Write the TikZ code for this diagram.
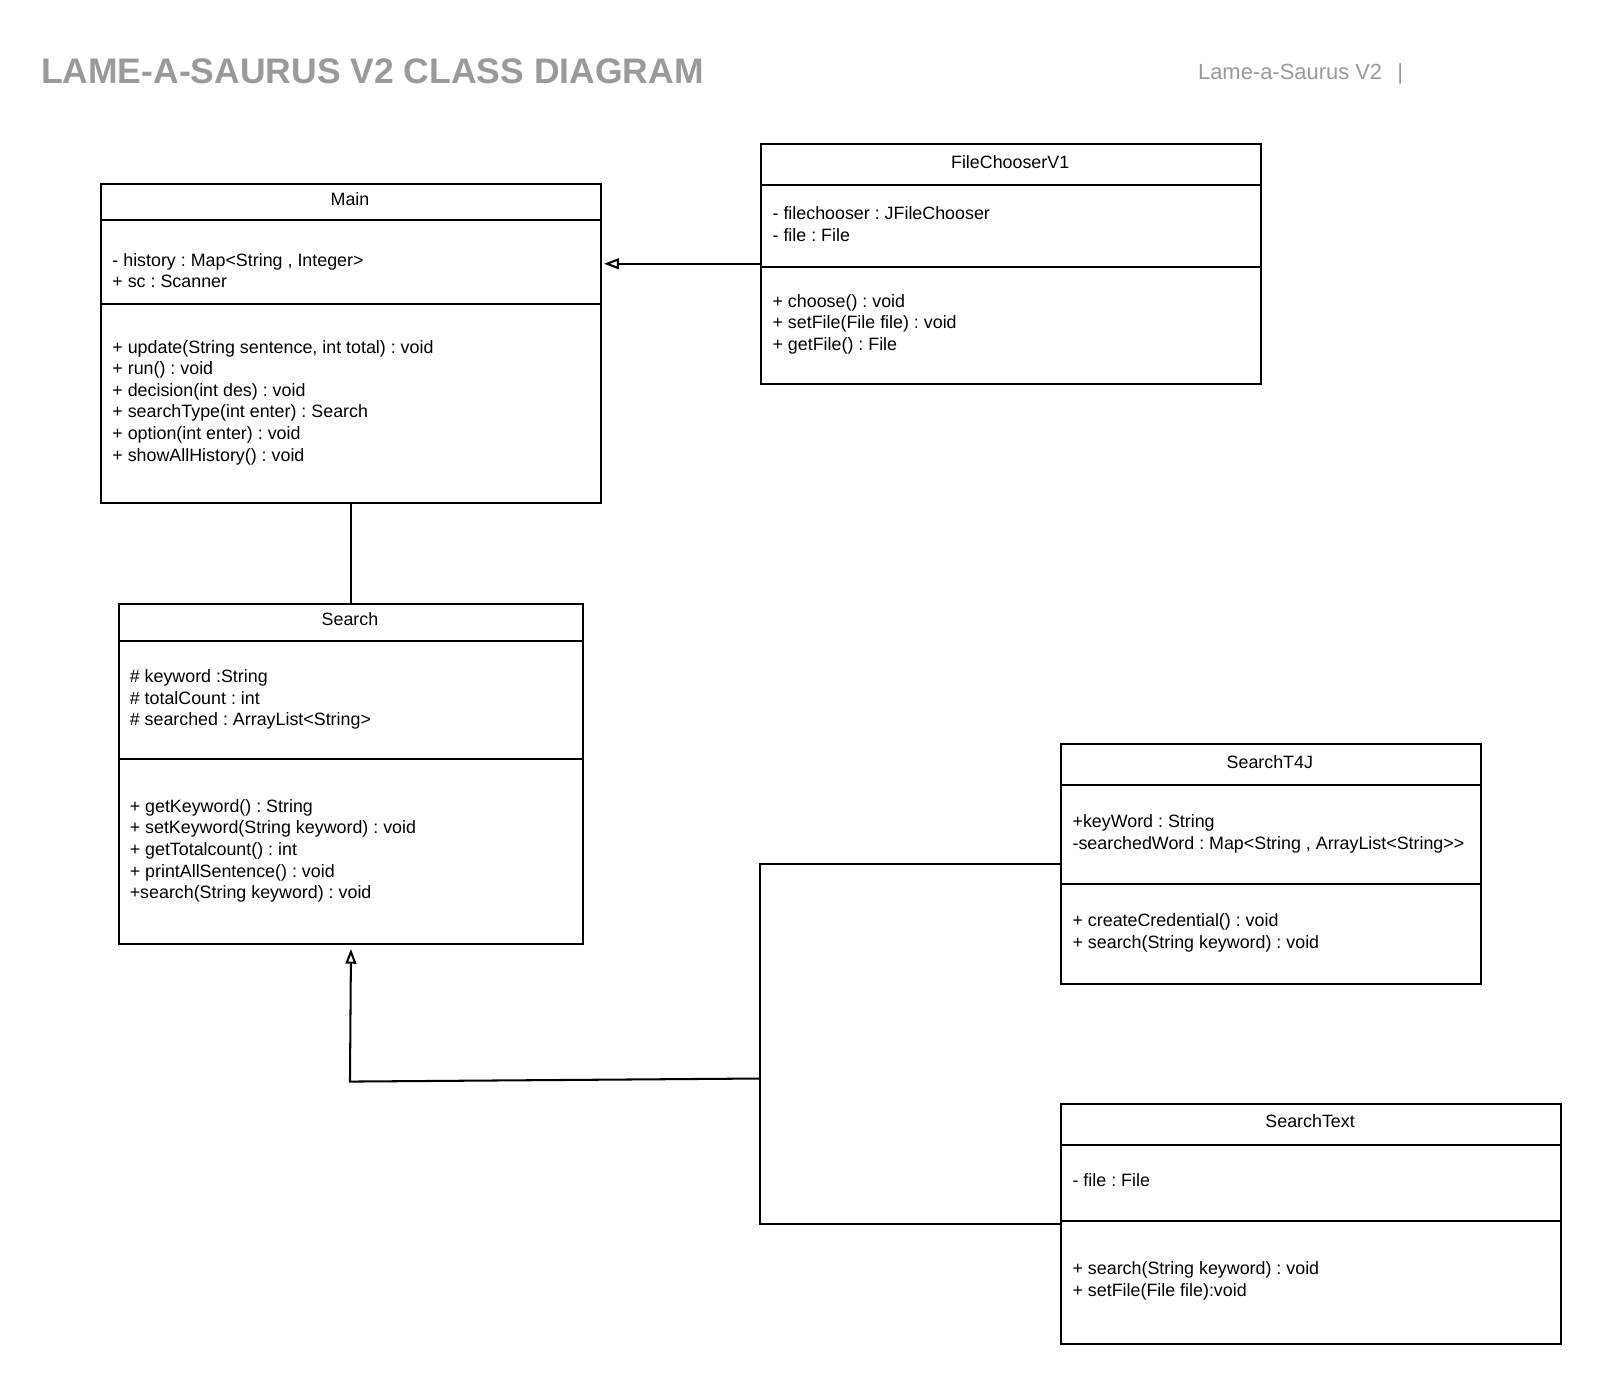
\documentclass[tikz,border=0pt]{standalone}
\usepackage{fontspec}
\setmainfont{Liberation Sans}
\usetikzlibrary{arrows.meta}
\definecolor{titlegray}{HTML}{9A9A9A}
\frenchspacing
\begin{document}
\begin{tikzpicture}[x=1pt,y=-1pt,
  cls/.style={draw, line width=2pt, inner sep=0pt, anchor=north west},
  div/.style={line width=2pt},
  ctitle/.style={font=\fontsize{17.5}{21.2}\selectfont, anchor=base, inner sep=0pt},
  members/.style={font=\fontsize{17.5}{21.2}\selectfont\frenchspacing, align=left, anchor=north west, inner sep=0pt},
  conn/.style={line width=2pt},
  gen/.style={conn, -{Triangle[open, length=14.5pt, width=10.5pt, line width=2pt]}}]
\useasboundingbox (0,0) rectangle (1568.1,1355.5);

% headings
\node[font=\bfseries\fontsize{34.8}{40}\selectfont, text=titlegray, anchor=base west, inner sep=0pt] (title) at (40,81.5) {LAME-A-SAURUS V2 CLASS DIAGRAM};
\node[font=\fontsize{21.5}{25}\selectfont, text=titlegray, anchor=base west, inner sep=0pt] (sub) at (1174,78) {Lame-a-Saurus V2\hspace{15pt}|};

% Main
\node[cls, minimum width=490pt, minimum height=313pt] (main) at (98,179) {};
\draw[div] (98,216) -- (588,216);
\draw[div] (98,298) -- (588,298);
\node[ctitle] (mainT) at (343,201) {Main};
\node[members] (mainA) at (110,246) {\strut- history : Map<String , Integer>\\+ sc : Scanner};
\node[members] (mainM) at (110,331) {\strut+ update(String sentence, int total) : void\\+ run() : void\\+ decision(int des) : void\\+ searchType(int enter) : Search\\+ option(int enter) : void\\+ showAllHistory() : void};

% FileChooserV1
\node[cls, minimum width=490pt, minimum height=235pt] (fc) at (745,140) {};
\draw[div] (745,181) -- (1235,181);
\draw[div] (745,262) -- (1235,262);
\node[ctitle] (fcT) at (990,165) {FileChooserV1};
\node[members] (fcA) at (757,200) {\strut- filechooser : JFileChooser\\- file : File};
\node[members] (fcM) at (757,286) {\strut+ choose() : void\\+ setFile(File file) : void\\+ getFile() : File};

% Search
\node[cls, minimum width=454pt, minimum height=333pt] (search) at (116,591) {};
\draw[div] (116,628) -- (570,628);
\draw[div] (116,744) -- (570,744);
\node[ctitle] (searchT) at (343,613) {Search};
\node[members] (searchA) at (127,654) {\strut\# keyword :String\\\# totalCount : int\\\# searched : ArrayList<String>};
\node[members] (searchM) at (127,781) {\strut+ getKeyword() : String\\+ setKeyword(String keyword) : void\\+ getTotalcount() : int\\+ printAllSentence() : void\\+search(String keyword) : void};

% SearchT4J
\node[cls, minimum width=411pt, minimum height=235pt] (t4j) at (1039,728) {};
\draw[div] (1039,769) -- (1450,769);
\draw[div] (1039,866) -- (1450,866);
\node[ctitle] (t4jT) at (1244.5,753) {SearchT4J};
\node[members] (t4jA) at (1051,796) {\strut+keyWord : String\\-searchedWord : Map<String , ArrayList<String>{}>};
\node[members] (t4jM) at (1051,893) {\strut+ createCredential() : void\\+ search(String keyword) : void};

% SearchText
\node[cls, minimum width=490pt, minimum height=235pt] (stext) at (1039,1081) {};
\draw[div] (1039,1122) -- (1529,1122);
\draw[div] (1039,1197) -- (1529,1197);
\node[ctitle] (stextT) at (1284,1105) {SearchText};
\node[members] (stextA) at (1051,1148) {\strut- file : File};
\node[members] (stextM) at (1051,1234) {\strut+ search(String keyword) : void\\+ setFile(File file):void};

% connectors
\draw[gen, shorten >=2pt] (fc.west) -- (main.east |- fc.west);
\draw[conn] (main.south) -- (search.north);
\coordinate (jx) at (745,1057);
\coordinate (bend) at (343,1060);
\draw[conn] (t4j.west) -- (t4j.west -| jx) -- (stext.west -| jx) -- (stext.west);
\draw[gen, shorten >=4pt] (jx) -- (bend) -- (search.south);
\end{tikzpicture}
\end{document}
